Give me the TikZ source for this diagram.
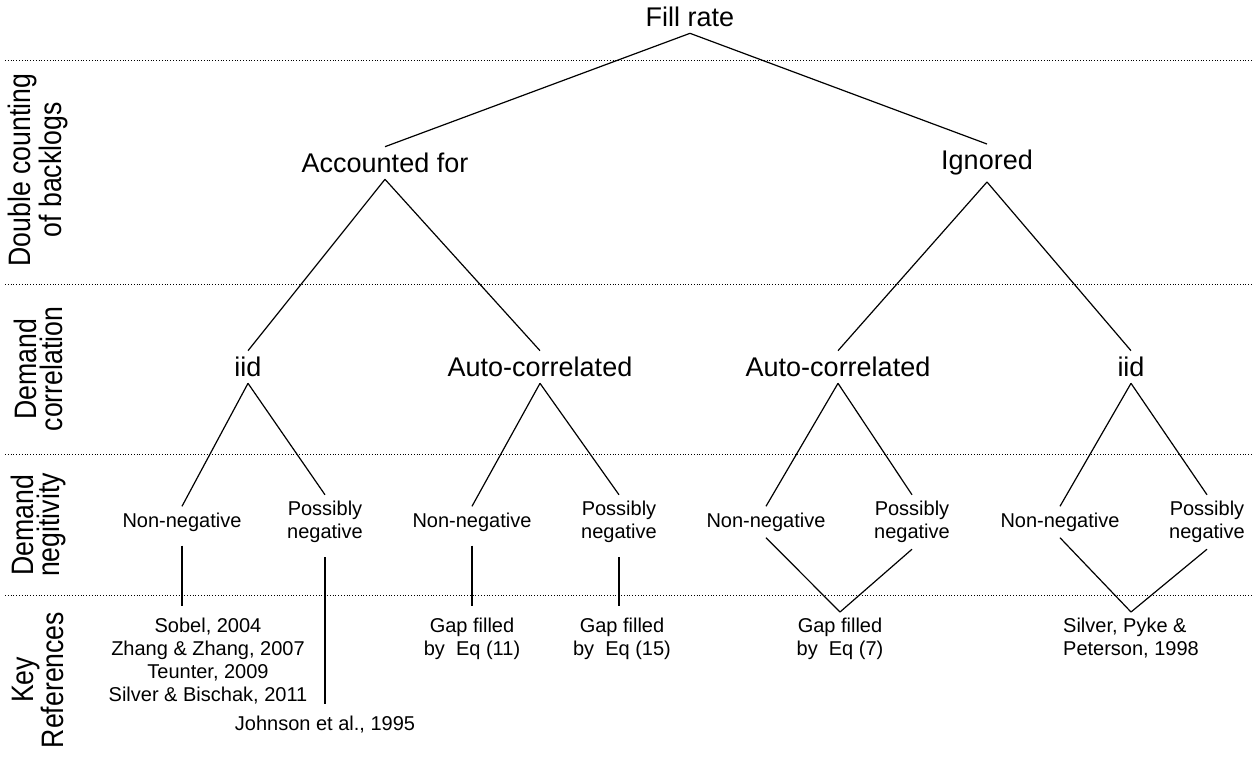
\documentclass[tikz,border=0pt]{standalone}
\usepackage{fontspec}
\setmainfont{Liberation Sans}
\newfontfamily\sidefont[FakeStretch=0.86]{Liberation Sans}
\usetikzlibrary{positioning}
\tikzstyle{bigtext}=[font=\fontsize{13.5}{15}\selectfont, inner sep=3pt]
\tikzstyle{smalltext}=[font=\fontsize{10}{11.5}\selectfont, align=center, inner sep=3pt]
\tikzstyle{sidetext}=[font=\sidefont\fontsize{15.5}{13}\selectfont, align=center, rotate=90]
\tikzstyle{branch}=[draw, line width=0.6pt]
\tikzstyle{levelline}=[draw, densely dotted, thin]

\begin{document}
\begin{tikzpicture}[x=0.5pt, y=-0.5pt]
    \useasboundingbox (0,0) rectangle (1254,756);

    % level separators
    \foreach \y in {60,284,454,595}
        \draw[levelline] (5,\y) -- (1254,\y);

    % row labels
    \node[sidetext] (rowdouble) at (38,170) {Double counting\\of backlogs};
    \node[sidetext] (rowcorr) at (38,369) {Demand\\correlation};
    \node[sidetext] (rowneg) at (38,525) {Demand\\negitivity};
    \node[sidetext] (rowref) at (38,680) {Key\\References};

    % tree
    \node[bigtext] (fill) at (690,17) {Fill rate};
    \foreach \pos/\name/\txt in {{(385,163)/acc/Accounted for}, {(987,163)/ign/Ignored},
                                 {(248,367)/iidA/iid}, {(540,367)/autoA/Auto-correlated},
                                 {(838,367)/autoI/Auto-correlated}, {(1131,367)/iidI/iid}}
        \node[bigtext] (\name) at \pos {\txt};

    \foreach \x/\name in {182/nnA, 472/nnB, 766/nnC, 1060/nnD}
        \node[smalltext] (\name) at (\x,522) {Non-negative};
    \foreach \x/\name in {325/pnA, 619/pnB, 912/pnC, 1207/pnD}
        \node[smalltext] (\name) at (\x,522) {Possibly\\negative};

    % references
    \node[smalltext, anchor=north] (refA) at (208,612) {Sobel, 2004\\Zhang \& Zhang, 2007\\Teunter, 2009\\Silver \& Bischak, 2011};
    \node[smalltext, anchor=north] (refJ) at (325,710) {Johnson et al., 1995};
    \node[smalltext, anchor=north] (refB) at (472,612) {Gap filled\\by~ Eq (11)};
    \node[smalltext, anchor=north] (refC) at (622,612) {Gap filled\\by~ Eq (15)};
    \node[smalltext, anchor=north] (refD) at (840,612) {Gap filled\\by~ Eq (7)};
    \node[smalltext, anchor=north, align=left] (refE) at (1131,612) {Silver, Pyke \&\\Peterson, 1998};

    \foreach \source/\dest in {fill/acc, fill/ign, acc/iidA, acc/autoA, ign/autoI, ign/iidI,
                               iidA/nnA, iidA/pnA, autoA/nnB, autoA/pnB, autoI/nnC, autoI/pnC,
                               iidI/nnD, iidI/pnD, nnC/refD, pnC/refD, nnD/refE, pnD/refE}
        \path[branch] (\source.south) -- (\dest.north);

    \foreach \source/\dest in {nnA/refA, pnA/refJ, nnB/refB, pnB/refC}
        \path[branch, shorten <=4pt, shorten >=3pt] (\source.south) -- (\source.south |- \dest.north);

\end{tikzpicture}
\end{document}
